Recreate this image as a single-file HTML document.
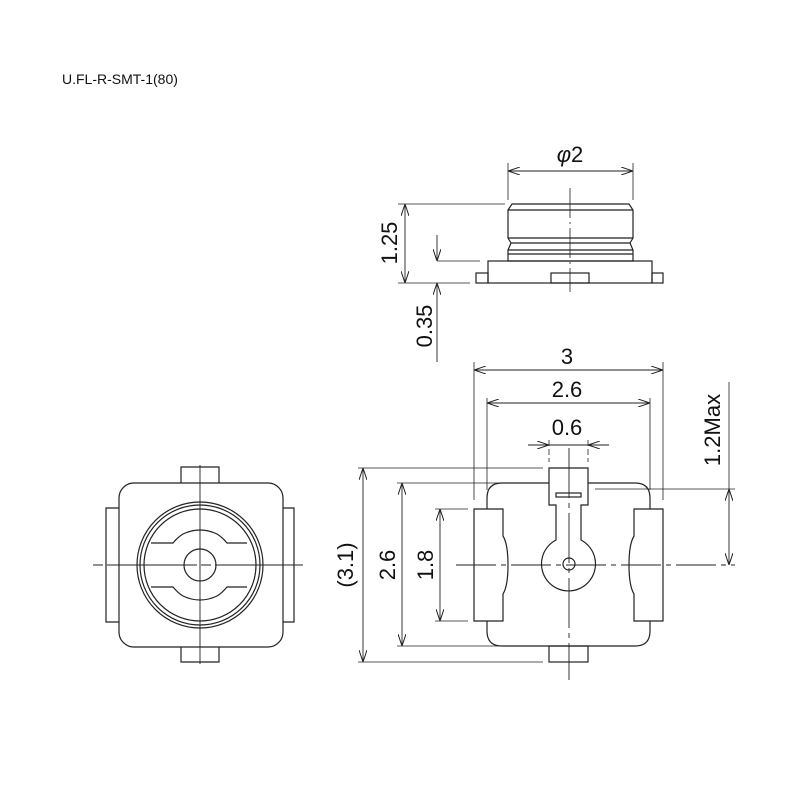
<!DOCTYPE html><html><head><style>body{margin:0;background:#fff}svg{display:block}text{font-family:"Liberation Sans",sans-serif;fill:#111}</style></head><body>
<svg width="800" height="800" viewBox="0 0 800 800" xmlns="http://www.w3.org/2000/svg">
<defs><marker id="a" viewBox="0 0 12 8" refX="12" refY="4" markerWidth="12" markerHeight="8" orient="auto-start-reverse" markerUnits="userSpaceOnUse"><path d="M0,0 L12,4 L0,8" fill="none" stroke="#222" stroke-width="1"/></marker></defs>
<text x="62" y="84" font-size="14">U.FL-R-SMT-1(80)</text>
<g fill="none" stroke="#222" stroke-width="1.2">
<!-- top view -->
<path d="M508,210 L512,204 L629,204 L633,210 L633,238 L630,243 L633,250 L633,261 L508,261 L508,250 L511,243 L508,238 Z"/>
<line x1="508" y1="210" x2="633" y2="210"/><line x1="508" y1="238" x2="633" y2="238"/><line x1="511" y1="243" x2="630" y2="243"/><line x1="508" y1="250" x2="633" y2="250"/><line x1="508" y1="254" x2="633" y2="254"/>
<rect x="488" y="261" width="164" height="22"/><rect x="476" y="273" width="12" height="10"/><rect x="652" y="273" width="11" height="10"/><rect x="551" y="273" width="38" height="10"/>
<line x1="570" y1="188" x2="570" y2="292" stroke-dasharray="30,4,2,4" stroke-width="0.8"/>
<line x1="508" y1="163" x2="508" y2="200" stroke-width="0.8"/><line x1="633" y1="163" x2="633" y2="200" stroke-width="0.8"/>
<line x1="508" y1="171" x2="633" y2="171" marker-start="url(#a)" marker-end="url(#a)" stroke-width="0.9"/>
<line x1="398" y1="204" x2="505" y2="204" stroke-width="0.8"/><line x1="398" y1="283" x2="470" y2="283" stroke-width="0.8"/><line x1="437" y1="261" x2="480" y2="261" stroke-width="0.8"/>
<line x1="405" y1="204" x2="405" y2="283" marker-start="url(#a)" marker-end="url(#a)" stroke-width="0.9"/>
<line x1="437" y1="235" x2="437" y2="261" marker-end="url(#a)" stroke-width="0.9"/>
<line x1="437" y1="362" x2="437" y2="283" marker-end="url(#a)" stroke-width="0.9"/>
<!-- left view -->
<rect x="119" y="483" width="164" height="164" rx="15"/>
<path d="M181,483 V467 H219 V483"/><path d="M181,647 V662 H219 V647"/><path d="M119,508 H106 V622 H119"/><path d="M283,508 H294 V622 H283"/>
<circle cx="200" cy="565" r="63"/><circle cx="200" cy="565" r="60"/><circle cx="200" cy="565" r="56"/><circle cx="200" cy="565" r="16"/>
<path d="M151,543 H173 Q178,537 183,534 Q200,526 217,534 Q222,537 227,543 H247"/>
<path d="M151,587 H173 Q178,593 183,596 Q200,604 217,596 Q222,593 227,587 H247"/>
<line x1="93" y1="565" x2="303" y2="565" stroke-dasharray="10,4,90,4" stroke-width="0.9"/>
<line x1="200" y1="465" x2="200" y2="664" stroke-width="0.9"/>
<!-- right view -->
<path d="M549,483 H502 Q487,483 487,498 V509 M474,509 H503 V536 Q508,544 508,565 Q508,586 503,594 V621 H474 Z M487,621 V631 Q487,646 502,646 H635 Q650,646 650,631 V621 M663,509 H634 V536 Q629,544 629,565 Q629,586 634,594 V621 H663 Z M650,509 V498 Q650,483 635,483 H588"/>
<path d="M549,468 H588 V505 H581 V540 A27,27 0 1 1 556,540 V505 H549 Z"/>
<rect x="556" y="493" width="25" height="4"/><circle cx="569" cy="564" r="6"/>
<rect x="549" y="646" width="39" height="16"/>
<line x1="569" y1="448" x2="569" y2="680" stroke-dasharray="50,5,5,5" stroke-width="0.9"/>
<line x1="456" y1="565" x2="735" y2="565" stroke-dasharray="40,5,5,5" stroke-width="0.9"/>
<!-- dims -->
<line x1="474" y1="362" x2="474" y2="500" stroke-width="0.8"/><line x1="663" y1="362" x2="663" y2="500" stroke-width="0.8"/>
<line x1="474" y1="370" x2="663" y2="370" marker-start="url(#a)" marker-end="url(#a)" stroke-width="0.9"/>
<line x1="487" y1="398" x2="487" y2="490" stroke-width="0.8"/><line x1="650" y1="398" x2="650" y2="490" stroke-width="0.8"/>
<line x1="487" y1="403" x2="650" y2="403" marker-start="url(#a)" marker-end="url(#a)" stroke-width="0.9"/>
<line x1="549" y1="440" x2="549" y2="462" stroke-width="0.8" stroke-dasharray="6,3"/><line x1="588" y1="440" x2="588" y2="462" stroke-width="0.8" stroke-dasharray="6,3"/>
<line x1="528" y1="445" x2="549" y2="445" marker-end="url(#a)" stroke-width="0.9"/><line x1="609" y1="445" x2="588" y2="445" marker-end="url(#a)" stroke-width="0.9"/><line x1="549" y1="445" x2="588" y2="445" stroke-width="0.9"/>
<line x1="358" y1="468" x2="543" y2="468" stroke-width="0.8"/><line x1="358" y1="662" x2="543" y2="662" stroke-width="0.8"/>
<line x1="363" y1="468" x2="363" y2="662" marker-start="url(#a)" marker-end="url(#a)" stroke-width="0.9"/>
<line x1="397" y1="483" x2="549" y2="483" stroke-width="0.8"/><line x1="397" y1="646" x2="500" y2="646" stroke-width="0.8"/>
<line x1="402" y1="483" x2="402" y2="646" marker-start="url(#a)" marker-end="url(#a)" stroke-width="0.9"/>
<line x1="435" y1="509" x2="468" y2="509" stroke-width="0.8"/><line x1="435" y1="621" x2="468" y2="621" stroke-width="0.8"/>
<line x1="440" y1="509" x2="440" y2="621" marker-start="url(#a)" marker-end="url(#a)" stroke-width="0.9"/>
<line x1="595" y1="489" x2="735" y2="489" stroke-width="0.8"/>
<line x1="729" y1="382" x2="729" y2="489" stroke-width="0.8"/>
<line x1="729" y1="489" x2="729" y2="565" marker-start="url(#a)" marker-end="url(#a)" stroke-width="0.9"/>
</g>
<g font-size="22" text-anchor="middle">
<text x="570" y="162"><tspan font-style="italic">φ</tspan>2</text>
<text x="567" y="364">3</text><text x="567" y="397">2.6</text><text x="567" y="435">0.6</text>
<text transform="translate(397,243) rotate(-90)">1.25</text>
<text transform="translate(432,326) rotate(-90)">0.35</text>
<text transform="translate(353,565) rotate(-90)">(3.1)</text>
<text transform="translate(395,565) rotate(-90)">2.6</text>
<text transform="translate(433,565) rotate(-90)">1.8</text>
<text transform="translate(720,430) rotate(-90)">1.2Max</text>
</g>
</svg></body></html>
